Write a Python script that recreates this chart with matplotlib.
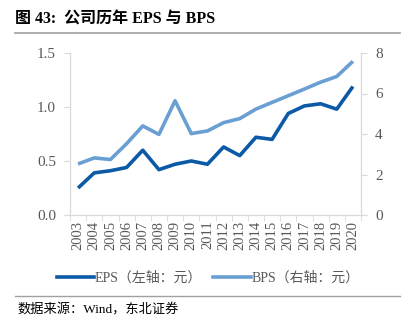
import matplotlib
matplotlib.use("Agg")
import matplotlib.pyplot as plt
from matplotlib.lines import Line2D

plt.rcParams['font.family'] = ['Liberation Serif', 'Noto Sans CJK SC']

years = [str(y) for y in range(2003, 2021)]
eps = [0.25, 0.39, 0.41, 0.44, 0.60, 0.42, 0.47, 0.50, 0.47, 0.63, 0.55, 0.72,
       0.70, 0.94, 1.01, 1.03, 0.98, 1.19]
bps = [2.52, 2.82, 2.74, 3.52, 4.40, 3.98, 5.64, 4.02, 4.15, 4.56, 4.76, 5.23,
       5.56, 5.89, 6.22, 6.56, 6.84, 7.59]

eps_color = "#0c5aa6"
bps_color = "#6a9fd3"
grid_gray = "#d9d9d9"
text_gray = "#595959"

fig = plt.figure(figsize=(4.15, 3.27), dpi=100)
ax = fig.add_axes((70 / 415, 1 - 215 / 327, 291 / 415, 162 / 327))
ax2 = ax.twinx()

x = list(range(len(years)))
ax.plot(x, eps, color=eps_color, lw=2.6, solid_capstyle="butt")
ax2.plot(x, bps, color=bps_color, lw=2.6, solid_capstyle="butt")

ax.set_xlim(-0.5, len(years) - 0.5)
ax.set_ylim(0, 1.5)
ax.set_yticks([0.0, 0.5, 1.0, 1.5])
ax.set_yticklabels(["0.0", "0.5", "1.0", "1.5"])
ax2.set_ylim(0, 8)
ax2.set_yticks([0, 2, 4, 6, 8])

ax.set_xticks(x)
ax.set_xticklabels(years, rotation=90)
ax.set_xticks([i - 0.5 for i in range(len(years) + 1)], minor=True)
ax.tick_params(axis="x", which="major", length=0, pad=4, labelsize=10.5, labelcolor=text_gray)
ax.tick_params(axis="x", which="minor", length=4, color=grid_gray, direction="out")
ax.tick_params(axis="y", length=4, color=grid_gray, labelsize=11, labelcolor=text_gray, pad=6)
ax2.tick_params(axis="y", length=4, color=grid_gray, labelsize=11, labelcolor=text_gray, pad=6)

for a in (ax, ax2):
    a.spines["top"].set_visible(False)
    for side in ("left", "right", "bottom"):
        a.spines[side].set_color(grid_gray)
        a.spines[side].set_linewidth(0.8)

fig.text(15 / 415, 1 - 20 / 327, "图 43:  公司历年 EPS 与 BPS", fontsize=11.5,
         fontweight="bold", va="center", ha="left")
fig.add_artist(Line2D([15 / 415, 400 / 415], [1 - 33 / 327, 1 - 33 / 327],
                      color="#a0a0a0", lw=1.2))

handles = [Line2D([], [], color=eps_color, lw=2.6),
           Line2D([], [], color=bps_color, lw=2.6)]
fig.legend(handles, ["EPS（左轴：元）", "BPS（右轴：元）"], loc="center",
           bbox_to_anchor=(208 / 415, 1 - 278 / 327), ncol=2, frameon=False,
           fontsize=10, handlelength=2.7, handletextpad=0.05, columnspacing=0.8,
           labelcolor=text_gray)

fig.add_artist(Line2D([15 / 415, 400 / 415], [1 - 296 / 327, 1 - 296 / 327],
                      color="#a0a0a0", lw=1.0))
fig.text(17 / 415, 1 - 310 / 327, "数据来源：Wind，东北证券", fontsize=9.5,
         va="center", ha="left")

fig.savefig("out.png", dpi=100)
